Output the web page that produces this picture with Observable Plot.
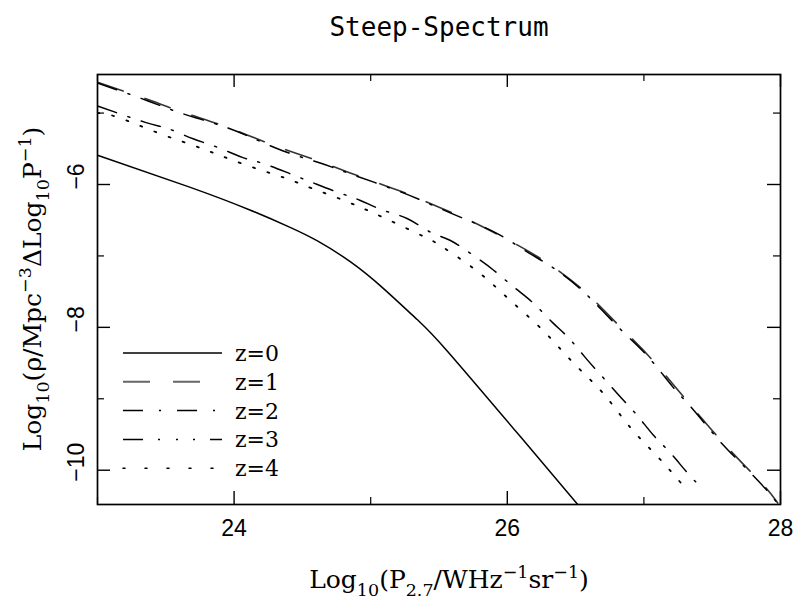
<!DOCTYPE html>
<html><head><meta charset="utf-8">
<script src="https://cdn.jsdelivr.net/npm/d3@7"></script>
<script src="https://cdn.jsdelivr.net/npm/@observablehq/plot@0.6"></script>
<style>body{margin:0;background:#fff} svg{display:block;background:#fff}</style>
</head><body><div id="chart"></div>
<script>
// ---- data ----
const chartTitle = "Steep-Spectrum";
const seriesNames = ["z=0", "z=1", "z=2", "z=3", "z=4"];

const z0X = [23.0, 23.68, 24.12, 24.41, 24.61, 24.85, 25.09, 25.34, 25.56, 26.10, 26.52];
const z0Y = [-5.59, -6.04, -6.36, -6.60, -6.79, -7.08, -7.45, -7.89, -8.33, -9.54, -10.49];

const z1X = [23.0, 23.37, 23.61, 23.88, 24.10, 24.36, 24.63, 24.85, 25.20, 25.44, 25.71, 25.93, 26.16, 26.37, 26.59, 26.83, 27.03, 27.21, 27.36, 27.54, 27.72, 27.89, 27.98];
const z1Y = [-4.57, -4.81, -4.98, -5.15, -5.31, -5.50, -5.68, -5.84, -6.08, -6.27, -6.49, -6.70, -6.94, -7.20, -7.54, -8.00, -8.39, -8.79, -9.13, -9.53, -9.90, -10.24, -10.46];

const z2X = [23.0, 23.37, 23.61, 23.88, 24.10, 24.36, 24.63, 24.85, 25.20, 25.44, 25.71, 25.93, 26.16, 26.37, 26.59, 26.83, 27.03, 27.21, 27.36, 27.54, 27.72, 27.89, 27.98];
const z2Y = [-4.58, -4.83, -5.00, -5.16, -5.32, -5.53, -5.70, -5.85, -6.09, -6.28, -6.50, -6.69, -6.96, -7.21, -7.56, -8.03, -8.41, -8.83, -9.15, -9.56, -9.92, -10.26, -10.47];

const z3X = [23.0, 23.35, 23.52, 23.70, 23.88, 24.06, 24.22, 24.41, 24.57, 24.76, 24.92, 25.09, 25.27, 25.44, 25.58, 25.75, 25.90, 26.05, 26.19, 26.33, 26.45, 26.57, 26.70, 26.83, 26.95, 27.07, 27.19, 27.32, 27.44];
const z3Y = [-4.90, -5.13, -5.22, -5.36, -5.48, -5.62, -5.71, -5.85, -5.97, -6.11, -6.22, -6.36, -6.48, -6.67, -6.78, -6.99, -7.20, -7.44, -7.66, -7.93, -8.15, -8.42, -8.70, -8.98, -9.23, -9.51, -9.75, -10.04, -10.28];

const z4X = [23.0, 23.15, 23.46, 23.77, 24.06, 24.36, 24.51, 24.80, 25.09, 25.39, 25.53, 25.79, 26.02, 26.26, 26.48, 26.70, 26.90, 27.11, 27.33];
const z4Y = [-5.00, -5.06, -5.29, -5.50, -5.71, -5.90, -6.01, -6.22, -6.46, -6.73, -6.88, -7.23, -7.62, -8.04, -8.49, -8.92, -9.40, -9.83, -10.31];

const xMajorTicks = [24, 26, 28];
const xMinorTicks = [23, 25, 27];
const xTickLabels = [24, 26, 28];
const yMajorTicks = [-6, -8, -10];
const yMinorTicks = [-5, -7, -9];
const yTickLabels = [-6, -8, -10];

// ---- build table ----
const seriesX = [z0X, z1X, z2X, z3X, z4X];
const seriesY = [z0Y, z1Y, z2Y, z3Y, z4Y];
const rows = seriesNames.flatMap((name, i) => seriesX[i].map((x, j) => ({series: name, x, y: seriesY[i][j]})));

// ---- styles ----
const styles = {
  "z=0": {dash: null,             stroke: "#000", width: 1.5, legendDash: null},
  "z=1": {dash: "27,23",          stroke: "#333", width: 1.6, legendDash: "27,23"},
  "z=2": {dash: "20,12,2,12",     stroke: "#000", width: 1.5, legendDash: "20,16,2,16"},
  "z=3": {dash: "20,12,2,12",     stroke: "#000", width: 1.5, legendDash: "20,15,2,16,2,15,2,15"},
  "z=4": {dash: "2,13",           stroke: "#000", width: 1.8, legendDash: "2,20"}
};

const W = 795, H = 601, mL = 97, mR = 15, mT = 74, mB = 97;
const innerW = W - mL - mR, innerH = H - mT - mB;
const majorLen = 13, minorLen = 7;
const tickFont = "'Liberation Sans', Arial, sans-serif";
const serif = "'DejaVu Serif', serif";

const lineMarks = seriesNames.map(name => Plot.line(rows.filter(d => d.series === name), {
  x: "x", y: "y", curve: "natural", clip: true,
  stroke: styles[name].stroke, strokeWidth: styles[name].width,
  strokeDasharray: styles[name].dash, strokeLinecap: "round"
}));

const svg = Plot.plot({
  width: W, height: H,
  marginLeft: mL, marginRight: mR, marginTop: mT, marginBottom: mB,
  x: {domain: [23, 28], axis: null},
  y: {domain: [-10.48, -4.46], axis: null},
  style: {background: "#fff", overflow: "visible"},
  marks: [
    ...lineMarks,
    // ticks (inward)
    Plot.tickX(xMajorTicks, {x: d => d, insetTop: innerH - majorLen, stroke: "#000", strokeWidth: 1.4}),
    Plot.tickX(xMajorTicks, {x: d => d, insetBottom: innerH - majorLen, stroke: "#000", strokeWidth: 1.4}),
    Plot.tickX(xMinorTicks, {x: d => d, insetTop: innerH - minorLen, stroke: "#000", strokeWidth: 1.2}),
    Plot.tickX(xMinorTicks, {x: d => d, insetBottom: innerH - minorLen, stroke: "#000", strokeWidth: 1.2}),
    Plot.tickY(yMajorTicks, {y: d => d, insetRight: innerW - majorLen, stroke: "#000", strokeWidth: 1.4}),
    Plot.tickY(yMajorTicks, {y: d => d, insetLeft: innerW - majorLen, stroke: "#000", strokeWidth: 1.4}),
    Plot.tickY(yMinorTicks, {y: d => d, insetRight: innerW - minorLen, stroke: "#000", strokeWidth: 1.2}),
    Plot.tickY(yMinorTicks, {y: d => d, insetLeft: innerW - minorLen, stroke: "#000", strokeWidth: 1.2}),
    Plot.frame({stroke: "#000", strokeWidth: 1.7}),
    // tick labels
    Plot.text(xTickLabels, {x: d => d, text: d => String(d), frameAnchor: "bottom", dy: 24, lineAnchor: "middle",
      fontSize: 23, fontFamily: tickFont, fill: "#000"}),
    Plot.text(yTickLabels, {y: d => d, text: d => "\u2212" + Math.abs(d), frameAnchor: "left", dx: -21, dy: -8,
      rotate: -90, textAnchor: "middle", lineAnchor: "middle", fontSize: 23, fontFamily: tickFont, fill: "#000"}),
    // title
    Plot.text([chartTitle], {text: d => d, frameAnchor: "top", dy: -39, lineAnchor: "bottom",
      fontSize: 26, fontFamily: "'DejaVu Sans Mono', monospace", fill: "#000"})
  ]
});

const s = d3.select(svg);

// rich-text axis labels
function richText(parent, parts, size) {
  const t = parent.append("text").attr("font-family", serif).attr("font-size", size).attr("fill", "#000").attr("text-anchor", "middle");
  let shift = 0;
  parts.forEach(([str, kind]) => {
    const target = kind === "sub" ? 0.32 * size : kind === "sup" ? -0.42 * size : 0;
    const sp = t.append("tspan").attr("dy", target - shift).text(str);
    if (kind) sp.attr("font-size", size * 0.7);
    shift = target;
  });
  return t;
}
const xLabelParts = [["Log"], ["10", "sub"], ["(P"], ["2.7", "sub"], ["/WHz"], ["\u22121", "sup"], ["sr"], ["\u22121", "sup"], [")"]];
const yLabelParts = [["Log"], ["10", "sub"], ["(\u03c1/Mpc"], ["\u22123", "sup"], ["\u0394Log"], ["10", "sub"], ["P"], ["\u22121", "sup"], [")"]];
richText(s, xLabelParts, 25).attr("transform", "translate(449,588)");
richText(s, yLabelParts, 25).attr("transform", "translate(41,289) rotate(-90)");

// legend
const legendX0 = 123, legendX1 = 222, legendTextX = 235, legendY0 = 353, legendStep = 28.8;
const lg = s.append("g");
seriesNames.forEach((name, i) => {
  const y = legendY0 + i * legendStep;
  const st = styles[name];
  lg.append("line").attr("x1", legendX0).attr("x2", legendX1).attr("y1", y).attr("y2", y)
    .attr("stroke", name === "z=1" ? "#666" : "#000").attr("stroke-width", name === "z=1" ? 2 : 1.5)
    .attr("stroke-linecap", name === "z=4" ? "round" : "butt")
    .attr("stroke-dasharray", st.legendDash);
  lg.append("text").attr("x", legendTextX).attr("y", y).attr("dy", "0.36em").attr("text-anchor", "start")
    .attr("font-family", serif).attr("font-size", 22).attr("fill", "#000").text(name);
});

document.getElementById("chart").appendChild(svg);
</script>
</body></html>
